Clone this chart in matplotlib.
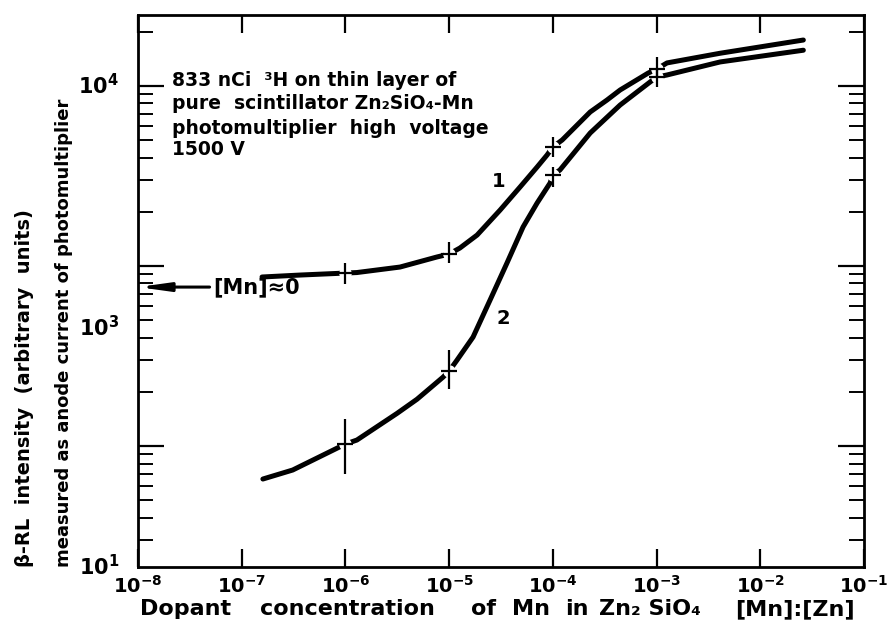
import numpy as np
import matplotlib
matplotlib.use("Agg")
import matplotlib.pyplot as plt
import matplotlib.transforms as mtransforms

# ---- data ----
c1_x = [1.57e-7, 3.65e-7, 1.0e-6, 1.29e-6, 3.36e-6, 7.6e-6, 1.0e-5, 1.27e-5, 1.86e-5,
        3.1e-5, 4.83e-5, 7.05e-5, 8.8e-5, 1.0e-4, 1.23e-4, 2.29e-4, 3.33e-4, 4.45e-4,
        8.3e-4, 1.0e-3, 1.26e-3, 4.1e-3, 2.6e-2]
c1_y = [869, 891, 914, 920, 987, 1122, 1166, 1259, 1486,
        2046, 2748, 3548, 4140, 4585, 5012, 7170, 8360, 9500,
        11800, 12400, 13430, 15200, 18000]

c2_x = [1.6e-7, 3.1e-7, 1.0e-6, 1.29e-6, 3.15e-6, 4.9e-6, 8.7e-6, 1.0e-5, 1.19e-5,
        1.70e-5, 2.48e-5, 3.61e-5, 5.16e-5, 7.05e-5, 9.4e-5, 1.0e-4, 1.17e-4, 2.29e-4,
        4.45e-4, 8.65e-4, 1.0e-3, 1.26e-3, 4.1e-3, 2.6e-2]
c2_y = [65.6, 73.6, 102.6, 108, 152, 182, 241, 261, 300,
        403, 647, 1039, 1648, 2239, 2891, 3206, 3415, 5480,
        7840, 10520, 11200, 11510, 13600, 15800]

# error bars (x, centre, low, high)
e1_x = [1e-6, 1e-5, 1e-4, 1e-3]
e1_y = [914, 1166, 4585, 12400]
e1_lo = [794, 1040, 4035, 11200]
e1_hi = [1040, 1360, 5210, 14500]

e2_x = [1e-6, 1e-5, 1e-4, 1e-3]
e2_y = [102.6, 261, 3206, 11200]
e2_lo = [69.9, 207, 2750, 9870]
e2_hi = [141, 341, 3548, 12270]

mn0_level = 764           # [Mn]≈0 arrow level
x_ticks = [1e-8, 1e-7, 1e-6, 1e-5, 1e-4, 1e-3, 1e-2, 1e-1]
x_ticklabels = [r"$\mathbf{10^{-8}}$", r"$\mathbf{10^{-7}}$", r"$\mathbf{10^{-6}}$",
                r"$\mathbf{10^{-5}}$", r"$\mathbf{10^{-4}}$", r"$\mathbf{10^{-3}}$",
                r"$\mathbf{10^{-2}}$", r"$\mathbf{10^{-1}}$"]
y_label_pos = [21.3, 453, 1e4]
y_ticklabels = [r"$\mathbf{10^{1}}$", r"$\mathbf{10^{3}}$", r"$\mathbf{10^{4}}$"]

xlabel_words = ["Dopant", "concentration", "of", "Mn", "in", "Zn₂ SiO₄", "[Mn]:[Zn]"]
xlabel_word_px = [140, 260, 471, 512, 565, 599, 735]   # layout: left edge of each word

plt.rcParams['font.family'] = ['DejaVu Sans']
plt.rcParams['font.weight'] = 'bold'

fig = plt.figure(figsize=(8.88, 6.29), dpi=100)
ax = fig.add_axes([0.1554, 0.0986, 0.8176, 0.8776])
ax.set_xscale('log')
ax.set_yscale('log')
ax.set_xlim(1e-8, 1e-1)
ax.set_ylim(21.3, 2.48e4)

for s in ax.spines.values():
    s.set_linewidth(2.0)

# curves
ax.plot(c1_x, c1_y, color='black', lw=3.6, solid_capstyle='round',
        solid_joinstyle='round', zorder=2)
ax.plot(c2_x, c2_y, color='black', lw=3.6, solid_capstyle='round',
        solid_joinstyle='round', zorder=2)

# small gaps in the curves at the measured points
ax.plot(e1_x, e1_y, ls='none', marker='o', ms=8, mfc='white', mec='white', zorder=3)
ax.plot(e2_x, e2_y, ls='none', marker='o', ms=8, mfc='white', mec='white', zorder=3)

for ex, ey, lo, hi in [(e1_x, e1_y, e1_lo, e1_hi), (e2_x, e2_y, e2_lo, e2_hi)]:
    ey = np.array(ey); lo = np.array(lo); hi = np.array(hi)
    ax.errorbar(ex, ey, yerr=[ey - lo, hi - ey], fmt='none', ecolor='black',
                elinewidth=1.6, capsize=0, zorder=4)
    ax.plot(ex, ey, ls='none', marker='_', ms=11, mew=1.6, color='black', zorder=4)

# ticks
ax.set_xticks(x_ticks)
ax.set_xticklabels(x_ticklabels, fontsize=14)
ax.xaxis.set_minor_locator(matplotlib.ticker.NullLocator())
ax.tick_params(axis='x', which='major', direction='in', length=13, width=1.6,
               top=True, bottom=True, pad=6)

ax.set_yticks([1e2, 1e3, 1e4])
ax.yaxis.set_major_formatter(matplotlib.ticker.NullFormatter())
ax.yaxis.set_minor_locator(matplotlib.ticker.LogLocator(base=10, subs=np.arange(2, 10)))
ax.yaxis.set_minor_formatter(matplotlib.ticker.NullFormatter())
ax.tick_params(axis='y', which='major', direction='in', length=19, width=1.6,
               left=True, right=True)
ax.tick_params(axis='y', which='minor', direction='in', length=11, width=1.4,
               left=True, right=True)

trans_y = mtransforms.blended_transform_factory(ax.transAxes, ax.transData)
for yp, lab in zip(y_label_pos, y_ticklabels):
    ax.text(-0.026, yp, lab, transform=trans_y, ha='right', va='center', fontsize=15)

# [Mn]≈0 arrow
ax.annotate("", xy=(1e-8, mn0_level), xytext=(4.9e-8, mn0_level),
            arrowprops=dict(arrowstyle='-|>,head_length=1.8,head_width=0.25',
                            color='black', lw=2.2, shrinkA=0, shrinkB=0))
ax.text(5.3e-8, mn0_level, "[Mn]≈0", ha='left', va='center', fontsize=15)

# curve labels
ax.text(3.03e-5, 2930, "1", ha='center', va='center', fontsize=14)
ax.text(3.31e-5, 514, "2", ha='center', va='center', fontsize=14)

# annotation block
lines = ["833 nCi  ³H on thin layer of",
         "pure  scintillator Zn₂SiO₄-Mn",
         "photomultiplier  high  voltage",
         "1500 V"]
ys = [0.882, 0.839, 0.795, 0.757]
for t, yy in zip(lines, ys):
    ax.text(0.047, yy, t, transform=ax.transAxes, ha='left', va='center', fontsize=13.5)

# axis labels
fig.text(25/888, 1 - 567/629, "β-RL  intensity  (arbitrary  units)", rotation=90,
         ha='center', va='bottom', fontsize=14)
fig.text(64/888, 1 - 567/629, "measured as anode current of photomultiplier", rotation=90,
         ha='center', va='bottom', fontsize=13)
for w, px in zip(xlabel_words, xlabel_word_px):
    fig.text(px/888, 1 - 615/629, w, ha='left', va='baseline', fontsize=16)

fig.savefig("out.png", dpi=100)
